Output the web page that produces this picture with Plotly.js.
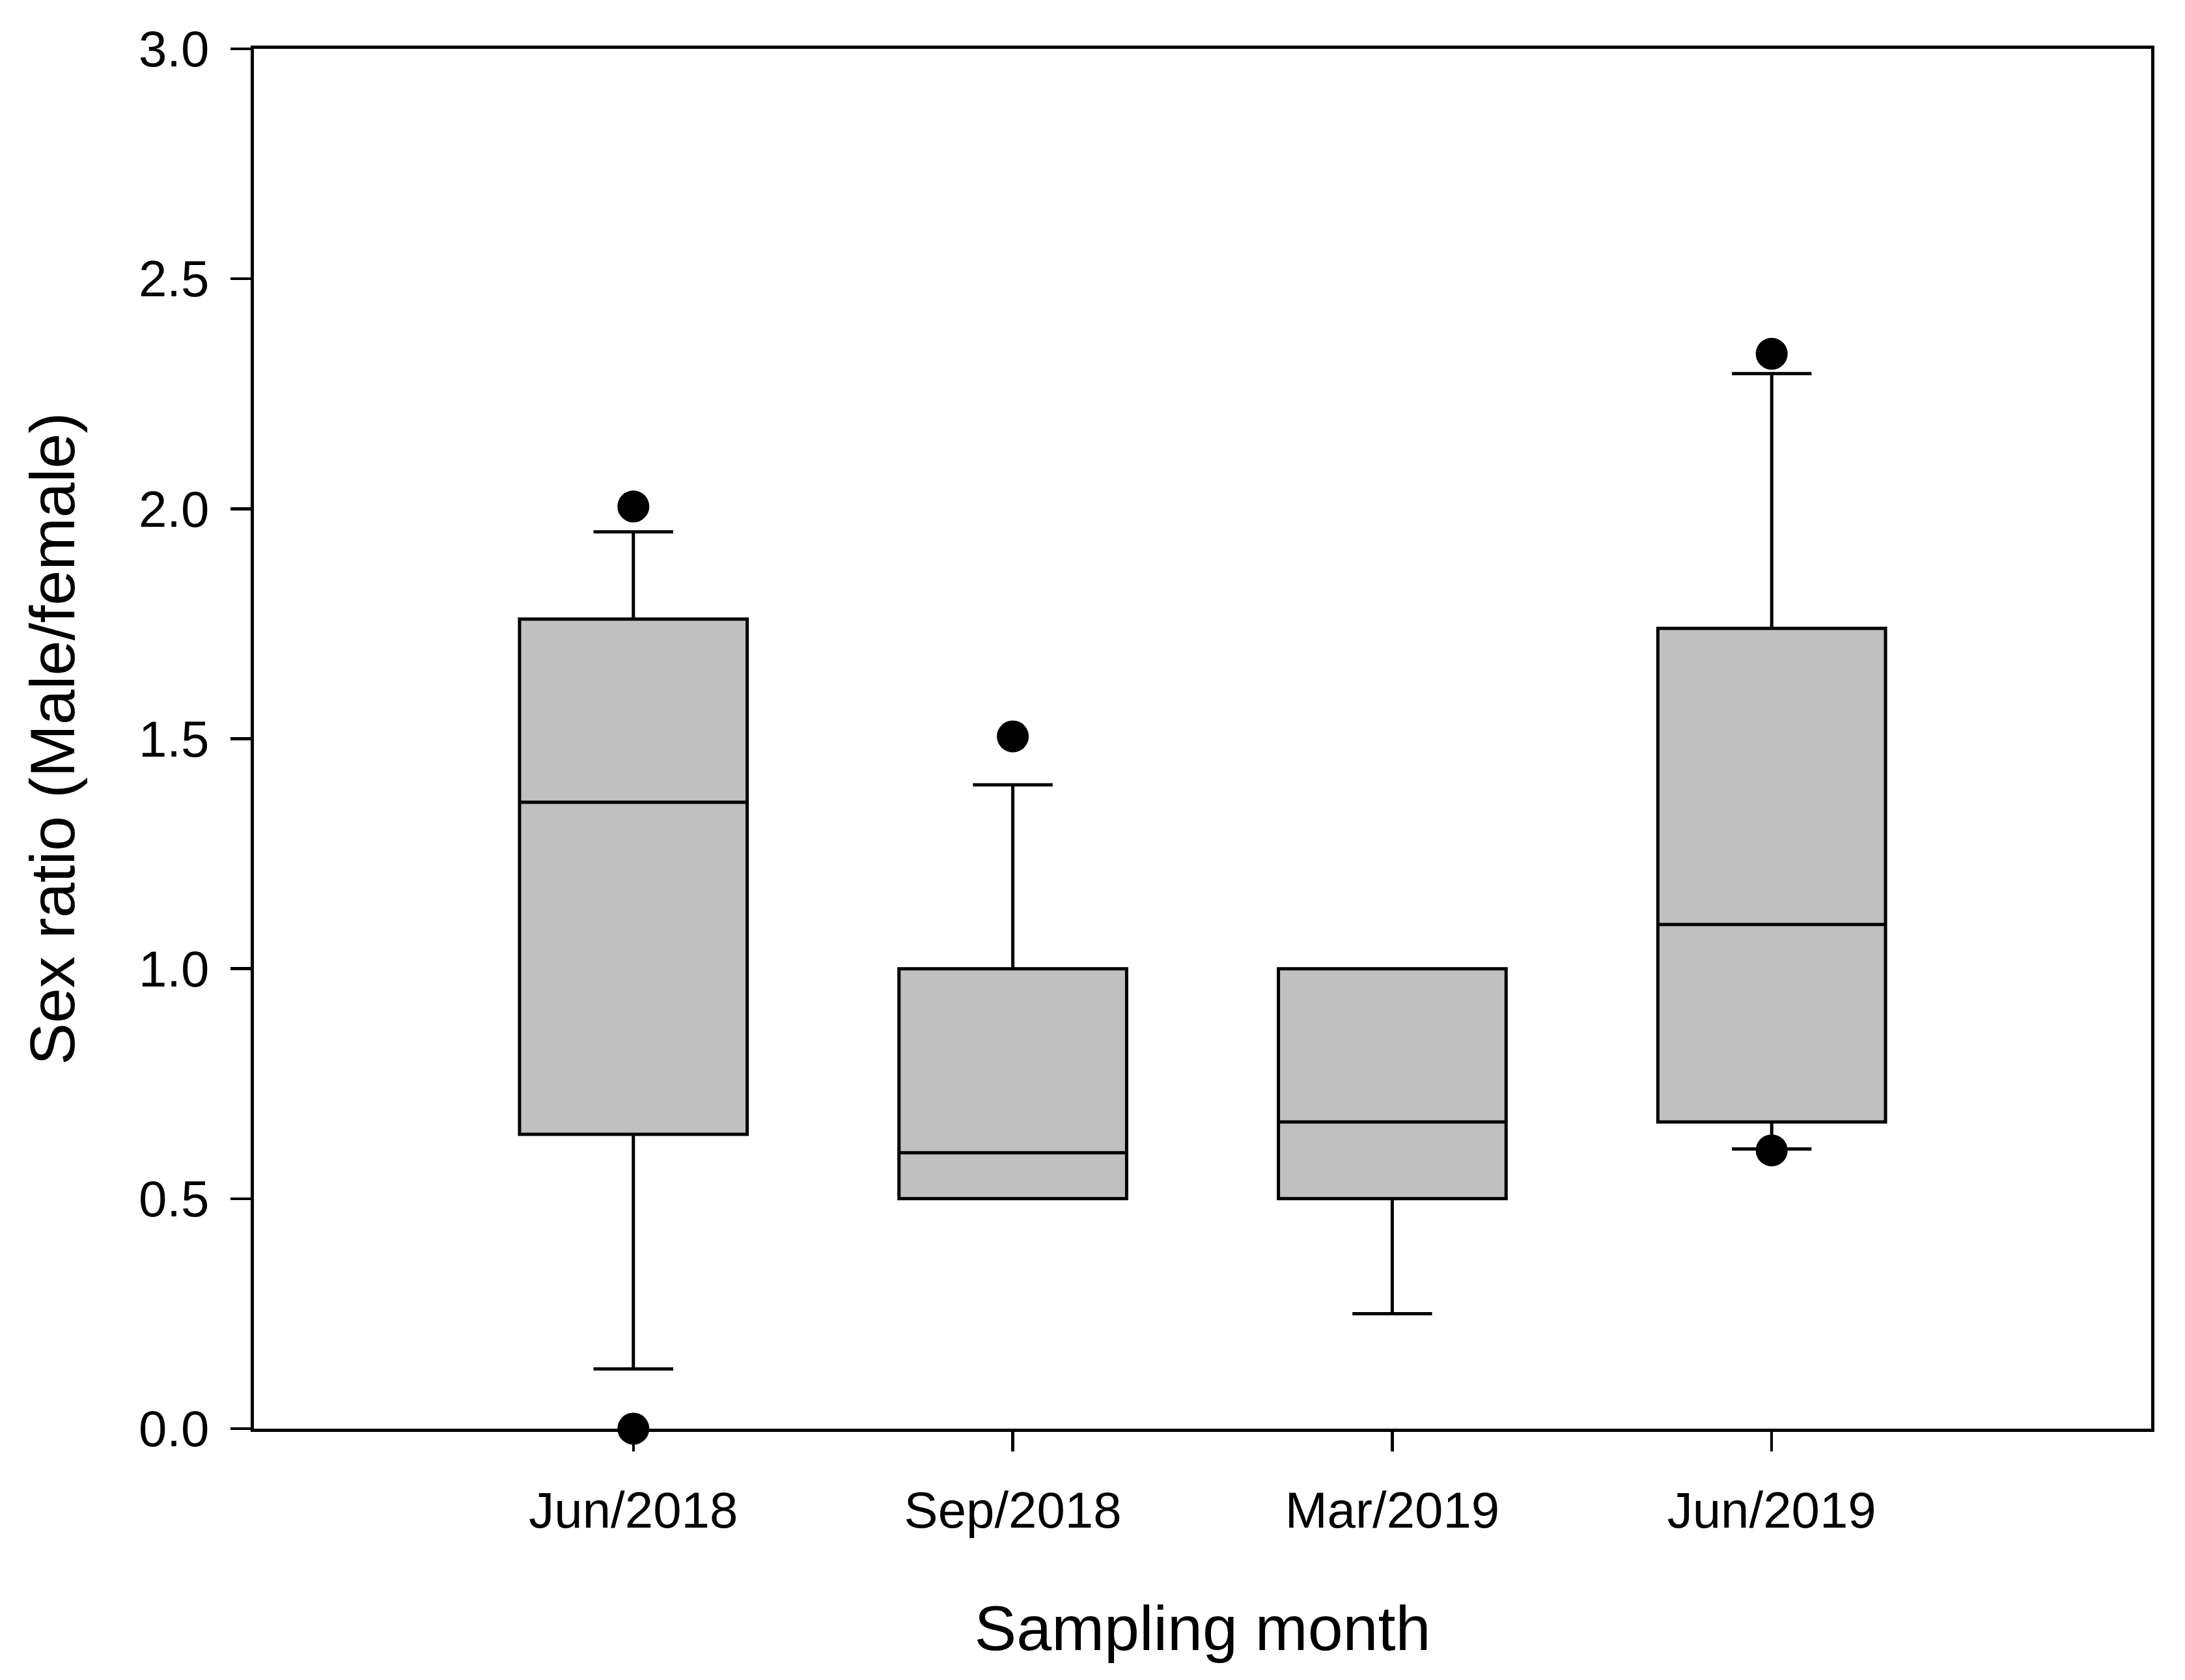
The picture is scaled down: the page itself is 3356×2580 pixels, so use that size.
<!DOCTYPE html>
<html>
<head>
<meta charset="utf-8">
<script src="https://cdn.plot.ly/plotly-3.0.1.min.js"></script>
<style>html,body{margin:0;padding:0;background:#fff;}#chart{width:3356px;height:2580px;}</style>
</head>
<body>
<div id="chart"></div>
<script>
// Data
const months = ['Jun/2018', 'Sep/2018', 'Mar/2019', 'Jun/2019'];
const q1 = [0.64, 0.5, 0.5, 0.667];
const median = [1.362, 0.6, 0.667, 1.096];
const q3 = [1.76, 1.0, 1.0, 1.74];
const lowerWhisker = [0.13, 0.5, 0.25, 0.608];
const upperWhisker = [1.95, 1.4, 1.0, 2.294];
const outlierMonths = ['Jun/2018', 'Jun/2018', 'Sep/2018', 'Jun/2019', 'Jun/2019'];
const outlierValues = [2.005, 0.0, 1.505, 2.337, 0.605];
const yTicks = [0, 0.5, 1.0, 1.5, 2.0, 2.5, 3.0];

const FONT = 'Liberation Sans, Arial, sans-serif';

const traces = [
  {
    type: 'box',
    x: months,
    q1: q1,
    median: median,
    q3: q3,
    lowerfence: lowerWhisker,
    upperfence: upperWhisker,
    boxpoints: false,
    width: 0.6,
    whiskerwidth: 0.35,
    fillcolor: '#c0c0c0',
    line: {color: '#000000', width: 5},
    showlegend: false,
    hoverinfo: 'none'
  },
  {
    type: 'scatter',
    mode: 'markers',
    x: outlierMonths,
    y: outlierValues,
    marker: {color: '#000000', size: 49, symbol: 'circle', line: {width: 0}},
    cliponaxis: false,
    showlegend: false,
    hoverinfo: 'none'
  }
];

const layout = {
  width: 3356,
  height: 2580,
  paper_bgcolor: '#ffffff',
  plot_bgcolor: '#ffffff',
  margin: {l: 390, r: 52, t: 75, b: 386, pad: 0},
  font: {family: FONT, color: '#000000'},
  showlegend: false,
  xaxis: {
    type: 'category',
    categoryorder: 'array',
    categoryarray: months,
    range: [-1, 4],
    showgrid: false,
    zeroline: false,
    showline: true,
    linecolor: '#000000',
    linewidth: 5,
    mirror: true,
    ticks: 'outside',
    ticklen: 30,
    tickwidth: 4.5,
    tickcolor: '#000000',
    ticklabelstandoff: 23,
    tickfont: {family: FONT, size: 78, color: '#000000'},
    title: {text: 'Sampling month', font: {family: FONT, size: 97, color: '#000000'}, standoff: 106},
    automargin: false
  },
  yaxis: {
    range: [0, 3],
    tickvals: yTicks,
    tickformat: '.1f',
    showgrid: false,
    zeroline: false,
    showline: true,
    linecolor: '#000000',
    linewidth: 5,
    mirror: true,
    ticks: 'outside',
    ticklen: 31,
    tickwidth: 4.5,
    tickcolor: '#000000',
    ticklabelstandoff: 17,
    tickfont: {family: FONT, size: 78, color: '#000000'},
    title: {text: 'Sex ratio (Male/female)', font: {family: FONT, size: 97, color: '#000000'}, standoff: 68},
    automargin: false
  }
};

Plotly.newPlot('chart', traces, layout, {staticPlot: true, displayModeBar: false});
</script>
</body>
</html>
